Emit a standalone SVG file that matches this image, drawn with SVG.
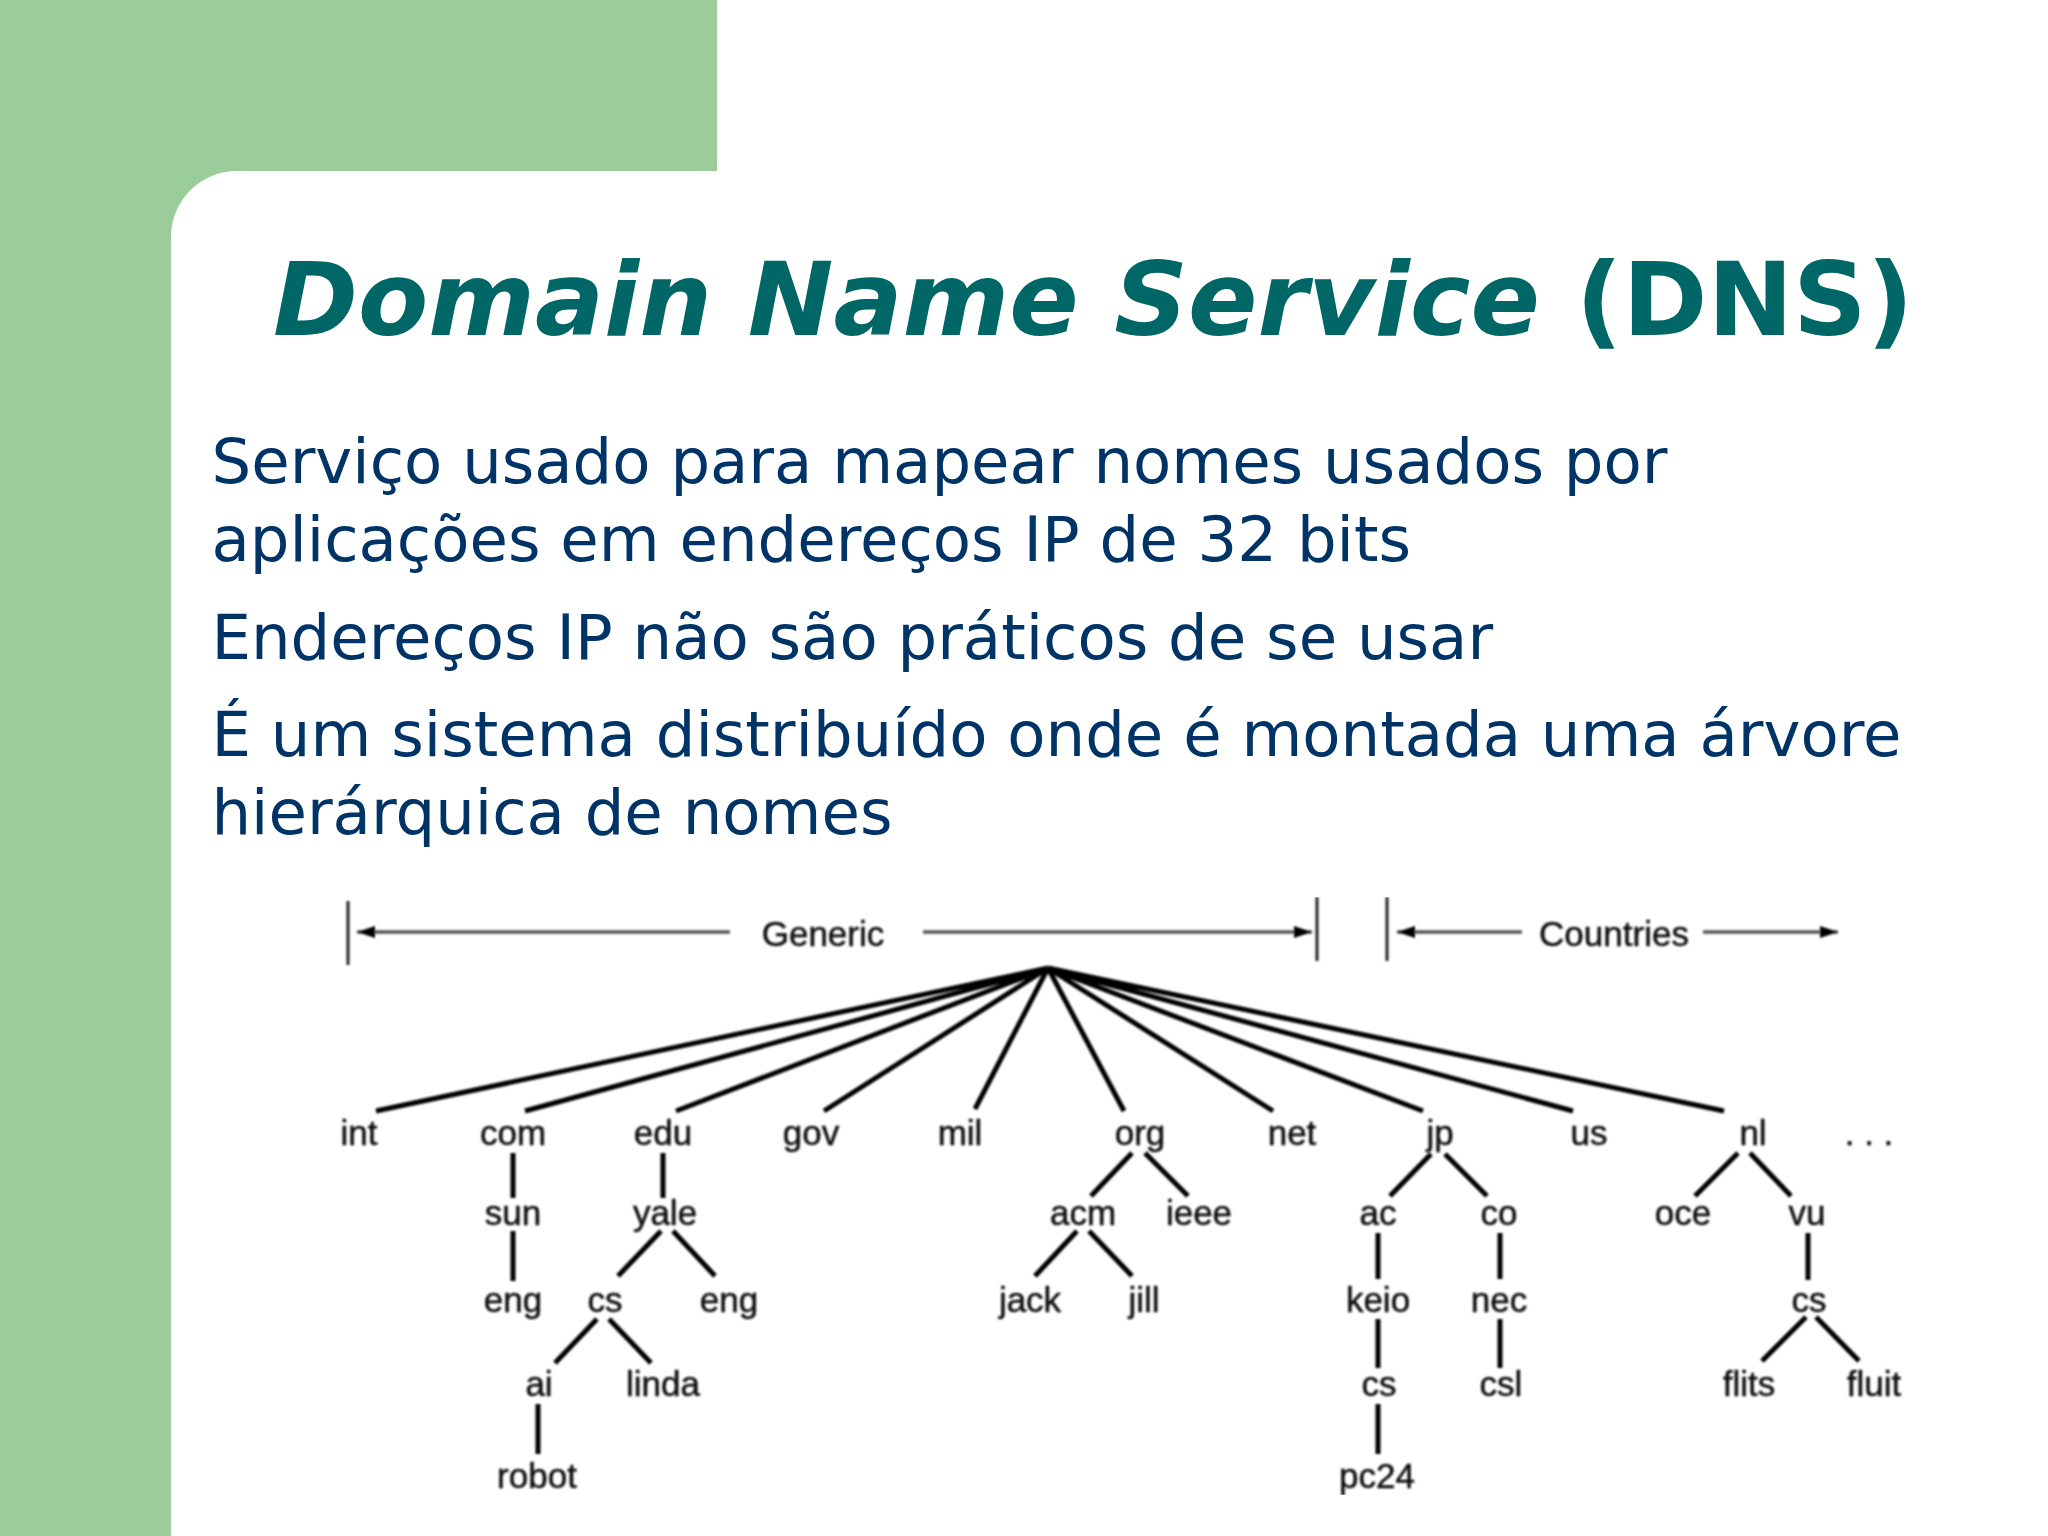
<svg xmlns="http://www.w3.org/2000/svg" width="2048" height="1536" viewBox="0 0 2048 1536">
<style>
.title{font-family:"DejaVu Sans",sans-serif;font-weight:700;font-size:102.4px;fill:#006666}
.body{font-family:"DejaVu Sans",sans-serif;font-size:62.5px;fill:#003366}
.n{font-family:"Liberation Sans",Arial,sans-serif;font-size:35px;fill:#111;stroke:#111;stroke-width:.5;text-anchor:middle}
.e{stroke:#000;stroke-width:5;fill:none}
.r{stroke:#555;stroke-width:3.5;fill:none}
.t{stroke:#222;stroke-width:3;fill:none}
</style>
<defs>
<filter id="soft" x="0" y="0" width="100%" height="100%"><feGaussianBlur stdDeviation="0.9"/></filter>
<marker id="ahb" markerWidth="18" markerHeight="14" refX="18" refY="7" orient="auto-start-reverse" markerUnits="userSpaceOnUse"><path d="M0 1L18 7L0 13Z" fill="#000"/></marker>
</defs>
<rect width="2048" height="1536" fill="#fff"/>
<path id="band" d="M0 0H717V171H237A66 66 0 0 0 171 237V1536H0Z" fill="#9bcd9b"/>
<text id="title" class="title" x="273" y="335"><tspan font-style="italic">Domain Name Service </tspan><tspan>(DNS)</tspan></text>
<g id="text">
<text class="body" x="211.5" y="483">Serviço usado para mapear nomes usados por</text>
<text class="body" x="211.5" y="561">aplicações em endereços IP de 32 bits</text>
<text class="body" x="211.5" y="659">Endereços IP não são práticos de se usar</text>
<text class="body" x="211.5" y="756">É um sistema distribuído onde é montada uma árvore</text>
<text class="body" x="211.5" y="834">hierárquica de nomes</text>
</g>
<g filter="url(#soft)">
<g id="connectors">
<path class="t" d="M348 901V965M1317 897V961M1387 897V961"/>
<path class="r" d="M730 932H357" marker-end="url(#ahb)"/>
<path class="r" d="M923 932H1312" marker-end="url(#ahb)"/>
<path class="r" d="M1522 932H1397" marker-end="url(#ahb)"/>
<path class="r" d="M1703 932H1838" marker-end="url(#ahb)"/>
<path class="e" d="M1048 968L376 1111M1048 968L525 1111M1048 968L676 1111M1048 968L824 1111M1048 968L975 1109M1048 968L1124 1111M1048 968L1273 1111M1048 968L1423 1111M1048 968L1573 1111M1048 968L1724 1111"/>
<path class="e" d="M513 1153V1198M513 1231V1281M663 1153V1198M661 1231L618 1276M673 1231L715 1276M597 1319L555 1363M609 1319L651 1363M538 1404V1454"/>
<path class="e" d="M1132 1153L1091 1196M1145 1153L1188 1196M1077 1231L1035 1276M1089 1231L1132 1276"/>
<path class="e" d="M1431 1154L1390 1196M1445 1154L1487 1196M1378 1233V1279M1378 1319V1368M1378 1404V1454M1500 1233V1279M1500 1319V1368"/>
<path class="e" d="M1738 1153L1695 1196M1750 1153L1791 1196M1808 1233V1280M1806 1317L1762 1361M1816 1317L1859 1361"/>
</g>
<g id="labels">
<text class="n" x="823" y="946">Generic</text>
<text class="n" x="1614" y="946">Countries</text>
</g>
<g id="n-int"><text class="n" x="359" y="1145">int</text></g>
<g id="n-com"><text class="n" x="513" y="1145">com</text></g>
<g id="n-edu"><text class="n" x="663" y="1145">edu</text></g>
<g id="n-gov"><text class="n" x="811" y="1145">gov</text></g>
<g id="n-mil"><text class="n" x="960" y="1145">mil</text></g>
<g id="n-org"><text class="n" x="1140" y="1145">org</text></g>
<g id="n-net"><text class="n" x="1292" y="1145">net</text></g>
<g id="n-jp"><text class="n" x="1440" y="1145">jp</text></g>
<g id="n-us"><text class="n" x="1589" y="1145">us</text></g>
<g id="n-nl"><text class="n" x="1753" y="1145">nl</text></g>
<g id="n-more"><text class="n" x="1869" y="1145">. . .</text></g>
<g id="n-sun"><text class="n" x="513" y="1225">sun</text></g>
<g id="n-yale"><text class="n" x="665" y="1225">yale</text></g>
<g id="n-acm"><text class="n" x="1083" y="1225">acm</text></g>
<g id="n-ieee"><text class="n" x="1199" y="1225">ieee</text></g>
<g id="n-ac"><text class="n" x="1378" y="1225">ac</text></g>
<g id="n-co"><text class="n" x="1499" y="1225">co</text></g>
<g id="n-oce"><text class="n" x="1683" y="1225">oce</text></g>
<g id="n-vu"><text class="n" x="1807" y="1225">vu</text></g>
<g id="n-eng1"><text class="n" x="513" y="1312">eng</text></g>
<g id="n-cs1"><text class="n" x="605" y="1312">cs</text></g>
<g id="n-eng2"><text class="n" x="729" y="1312">eng</text></g>
<g id="n-jack"><text class="n" x="1030" y="1312">jack</text></g>
<g id="n-jill"><text class="n" x="1144" y="1312">jill</text></g>
<g id="n-keio"><text class="n" x="1378" y="1312">keio</text></g>
<g id="n-nec"><text class="n" x="1499" y="1312">nec</text></g>
<g id="n-cs2"><text class="n" x="1809" y="1312">cs</text></g>
<g id="n-ai"><text class="n" x="539" y="1396">ai</text></g>
<g id="n-linda"><text class="n" x="663" y="1396">linda</text></g>
<g id="n-cs3"><text class="n" x="1379" y="1396">cs</text></g>
<g id="n-csl"><text class="n" x="1501" y="1396">csl</text></g>
<g id="n-flits"><text class="n" x="1749" y="1396">flits</text></g>
<g id="n-fluit"><text class="n" x="1874" y="1396">fluit</text></g>
<g id="n-robot"><text class="n" x="537" y="1488">robot</text></g>
<g id="n-pc24"><text class="n" x="1377" y="1488">pc24</text></g>
</g>
</svg>
